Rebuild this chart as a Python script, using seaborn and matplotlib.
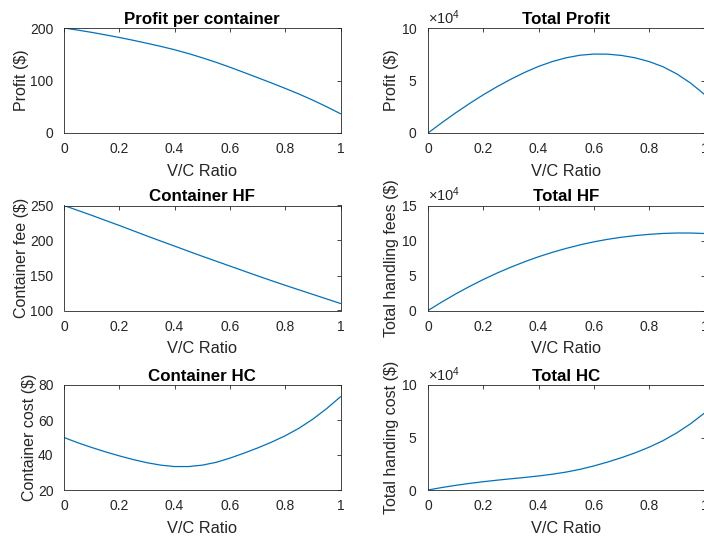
import numpy as np
import pandas as pd
import matplotlib
matplotlib.use("Agg")
import matplotlib.pyplot as plt
import seaborn as sns
from matplotlib.ticker import ScalarFormatter, FixedLocator

# ---- data ----
vc_ratio = [0.00, 0.05, 0.10, 0.15, 0.20, 0.25, 0.30, 0.35, 0.40, 0.45, 0.50,
            0.55, 0.60, 0.65, 0.70, 0.75, 0.80, 0.85, 0.90, 0.95, 1.00]

profit_per_container = [200, 196, 191.7, 186.9, 182, 176.6, 170.9, 165, 158.6, 151.3, 143.3,
                        134.7, 125.3, 115.5, 105.5, 95.4, 85, 74.2, 62.5, 50, 36.7]
container_hf = [250, 243, 236, 228.7, 221.5, 214, 206.5, 199.2, 192, 184.7, 177.5,
                170.5, 163.5, 156.5, 149.5, 142.7, 136, 129.5, 123, 116.5, 110]
container_hc = [50, 47, 44.3, 41.8, 39.5, 37.4, 35.6, 34.2, 33.4, 33.4, 34.2,
                35.8, 38.2, 41.0, 44.0, 47.3, 51.0, 55.3, 60.5, 66.5, 73.3]

total_profit = [0, 9800, 19170, 28035, 36400, 44150, 51270, 57750, 63440, 68085, 71650,
                74085, 75180, 75075, 73850, 71550, 68000, 63070, 56250, 47500, 36700]
total_hf = [0, 12150, 23600, 34305, 44300, 53500, 61950, 69720, 76800, 83115, 88750,
            93775, 98100, 101725, 104650, 107025, 108800, 110075, 110700, 110675, 110000]
total_hc = [0, 2350, 4430, 6270, 7900, 9350, 10680, 11970, 13360, 15030, 17100,
            19690, 22920, 26650, 30800, 35475, 40800, 47005, 54450, 63175, 73300]

x_ticks = [0, 0.2, 0.4, 0.6, 0.8, 1]
x_tick_labels = ["0", "0.2", "0.4", "0.6", "0.8", "1"]

titles = ["Profit per container", "Total Profit", "Container HF", "Total HF",
          "Container HC", "Total HC"]
ylabels = ["Profit ($)", "Profit ($)", "Container fee ($)", "Total handling fees ($)",
           "Container cost ($)", "Total handing cost ($)"]
yticks_list = [[0, 100, 200], [0, 50000, 100000],
               [100, 150, 200, 250], [0, 50000, 100000, 150000],
               [20, 40, 60, 80], [0, 50000, 100000]]
series = [profit_per_container, total_profit, container_hf, total_hf, container_hc, total_hc]
xlabel = "V/C Ratio"

# ---- style ----
sns.set_style("white")
plt.rcParams["font.family"] = ["Liberation Sans", "DejaVu Sans"]
plt.rcParams["mathtext.fontset"] = "custom"
plt.rcParams["mathtext.rm"] = "Liberation Sans"
plt.rcParams["mathtext.it"] = "Liberation Sans:italic"

dark = "#262626"
line_color = "#0072BD"

fig = plt.figure(figsize=(7.04, 5.37), dpi=100)
W, H = 704, 537
col_left = [64, 428]
row_top = [28, 205.5, 385]
ax_w, ax_h = 276.5, 105

for i in range(6):
    r, c = divmod(i, 2)
    left = col_left[c] / W
    bottom = (H - row_top[r] - ax_h) / H
    ax = fig.add_axes([left, bottom, ax_w / W, ax_h / H])
    df = pd.DataFrame({"x": vc_ratio, "y": series[i]})
    sns.lineplot(data=df, x="x", y="y", ax=ax, color=line_color, linewidth=0.9)
    yt = yticks_list[i]
    ax.set_xlim(0, 1)
    ax.set_ylim(yt[0], yt[-1])
    ax.xaxis.set_major_locator(FixedLocator(x_ticks))
    ax.set_xticklabels(x_tick_labels)
    ax.yaxis.set_major_locator(FixedLocator(yt))
    if c == 1:
        fmt = ScalarFormatter(useMathText=True)
        fmt.set_powerlimits((4, 4))
        ax.yaxis.set_major_formatter(fmt)
        ax.yaxis.get_offset_text().set_fontsize(10.5)
        ax.yaxis.get_offset_text().set_color(dark)
    ax.set_title(titles[i], fontsize=12.2, fontweight="bold", color="black", pad=3)
    ax.set_xlabel(xlabel, fontsize=11.8, color=dark, labelpad=5.5)
    ax.set_ylabel(ylabels[i], fontsize=11.5, color=dark, labelpad=1)
    ax.tick_params(direction="in", length=3, width=0.6, colors=dark, labelsize=10,
                   top=True, right=True)
    ax.tick_params(axis="x", pad=6.5)
    ax.tick_params(axis="y", pad=7.5)
    for s in ax.spines.values():
        s.set_color(dark)
        s.set_linewidth(0.6)
        s.set_visible(True)

fig.savefig("out.png", dpi=100, facecolor="white")
